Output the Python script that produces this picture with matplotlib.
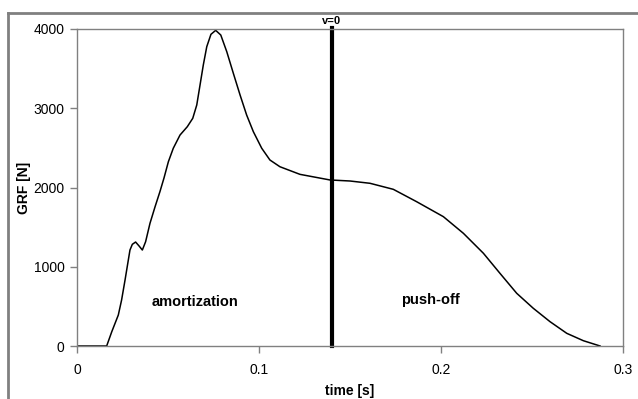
import matplotlib
matplotlib.use("Agg")
import matplotlib.pyplot as plt
from matplotlib.lines import Line2D

plt.rcParams['font.family'] = ['Liberation Sans', 'DejaVu Sans']

time_s = [0, 0.0163, 0.0191, 0.0227, 0.0245, 0.0264, 0.0282, 0.0291, 0.0304, 0.0322,
          0.0341, 0.0359, 0.0377, 0.0401, 0.0429, 0.0456, 0.0478, 0.0502, 0.0529, 0.0566,
          0.0606, 0.0636, 0.0658, 0.0676, 0.0694, 0.0713, 0.0736, 0.0762, 0.0790, 0.0823,
          0.0859, 0.0896, 0.0932, 0.0969, 0.1015, 0.1060, 0.1115, 0.1225, 0.139, 0.150,
          0.161, 0.1738, 0.1866, 0.2013, 0.2123, 0.2233, 0.2324, 0.2416, 0.2507, 0.2599,
          0.2691, 0.2782, 0.2874]
grf_n = [0, 0, 180, 391, 580, 833, 1085, 1211, 1283, 1312,
         1262, 1211, 1316, 1548, 1758, 1950, 2120, 2325, 2495, 2662,
         2767, 2873, 3041, 3293, 3546, 3777, 3933, 3983, 3924, 3713,
         3441, 3167, 2915, 2704, 2495, 2347, 2262, 2166, 2095, 2082,
         2053, 1977, 1821, 1632, 1422, 1170, 917, 665, 476, 307,
         160, 67, 0]
v0_time = 0.14
x_ticks = [0, 0.1, 0.2, 0.3]
x_tick_labels = ['0', '0.1', '0.2', '0.3']
y_ticks = [0, 1000, 2000, 3000, 4000]

W, H = 638, 399
fig = plt.figure(figsize=(W / 100, H / 100), dpi=100)
ax = fig.add_axes([77 / W, 1 - 346 / H, (623 - 77) / W, (346 - 29) / H])

gray = '#808080'
ax.plot(time_s, grf_n, color='black', lw=1.1)
ax.plot([v0_time, v0_time], [0, 4010], color='black', lw=3, clip_on=False)
ax.text(v0_time, 4040, 'v=0', ha='center', va='bottom', fontsize=8, fontweight='bold')
ax.text(0.065, 560, 'amortization', ha='center', va='center', fontsize=10.5, fontweight='bold')
ax.text(0.194, 580, 'push-off', ha='center', va='center', fontsize=10.5, fontweight='bold')

ax.set_xlim(0, 0.3)
ax.set_ylim(0, 4000)
ax.set_xticks(x_ticks)
ax.set_xticklabels(x_tick_labels)
ax.set_yticks(y_ticks)
for s in ax.spines.values():
    s.set_color(gray)
    s.set_linewidth(1)
ax.tick_params(colors=gray, labelcolor='black', labelsize=10, length=5, width=1, direction='out')
ax.tick_params(axis='x', pad=7)
ax.tick_params(axis='y', pad=4)
ax.set_xlabel('time [s]', fontsize=10, fontweight='bold', labelpad=5)
ax.set_ylabel('GRF [N]', fontsize=10, fontweight='bold', labelpad=2)

# outer frame
fx0, fy0 = 8 / W, 1 - 13 / H
fig.add_artist(Line2D([fx0, 1.02], [fy0, fy0], color=gray, lw=2, transform=fig.transFigure))
fig.add_artist(Line2D([fx0, fx0], [fy0, -0.02], color=gray, lw=2, transform=fig.transFigure))

fig.savefig('out.png', dpi=100)
